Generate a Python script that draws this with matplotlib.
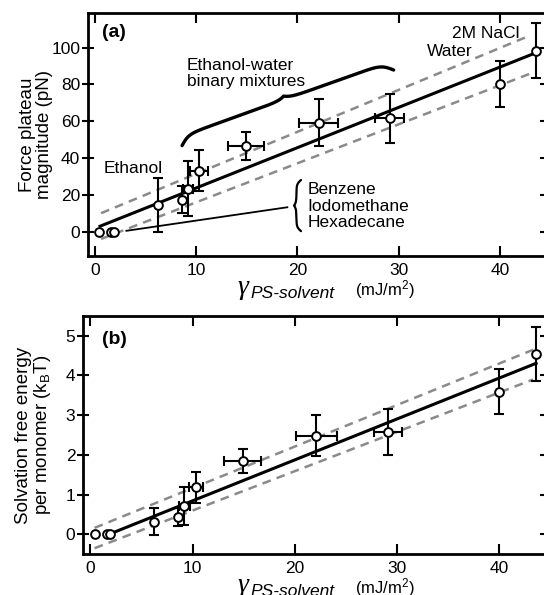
import numpy as np
import matplotlib.pyplot as plt

plt.rcParams['font.family'] = ['Liberation Sans', 'DejaVu Sans']
plt.rcParams['mathtext.fontset'] = 'custom'
plt.rcParams['mathtext.rm'] = 'Liberation Sans'
plt.rcParams['mathtext.it'] = 'Liberation Sans:italic'

# interfacial tension PS-solvent (mJ/m^2)
gamma = np.array([0.4, 1.6, 1.9, 6.2, 8.6, 9.2, 10.3, 14.9, 22.1, 29.1, 40.0, 43.6])
gamma_err_a = np.array([0, 0, 0, 0, 0, 0.5, 0.9, 1.8, 1.9, 1.45, 0, 0])
gamma_err_b = np.array([0, 0, 0, 0, 0, 0.5, 0.7, 1.8, 2.0, 1.4, 0, 0])

# (a) force plateau magnitude (pN)
force = np.array([0, 0, 0, 14.2, 17.3, 23.3, 33.0, 46.5, 59.1, 61.5, 80.4, 98.4])
force_err = np.array([0, 0, 0, 14.7, 7.3, 15.0, 11.2, 7.6, 12.8, 13.5, 12.5, 14.8])

# (b) solvation free energy per monomer (kBT)
energy = np.array([0, 0, 0, 0.32, 0.44, 0.71, 1.18, 1.85, 2.48, 2.58, 3.59, 4.53])
energy_err = np.array([0, 0, 0, 0.34, 0.22, 0.47, 0.38, 0.30, 0.52, 0.58, 0.57, 0.68])

# linear fits and bounds: (intercept, slope, x start, x end)
fit_a = (1.8, 2.19, 0.5, 43.6)
band_a_hi = (8.6, 2.28, 0.6, 43.0)
band_a_lo = (-5.3, 2.12, 0.6, 43.3)
fit_b = (-0.186, 0.103, 1.8, 43.6)
band_b_hi = (0.12, 0.1045, 0.4, 43.3)
band_b_lo = (-0.39, 0.099, 0.4, 43.3)

xticks = [0, 10, 20, 30, 40]
yticks_a = [0, 20, 40, 60, 80, 100]
yticks_b = [0, 1, 2, 3, 4, 5]

FS = 12.5


def fit_line(ax, fit, **kw):
    b0, b1, x0, x1 = fit
    xs = np.array([x0, x1])
    ax.plot(xs, b0 + b1 * xs, **kw)


def brace(ax, p0, p1, amp, r_end, cusp, w_cusp, **kw):
    # curly brace between two data points, built in pixel space;
    # the bulge is on the left of the p0 -> p1 direction
    a = ax.transData.transform(p0)
    b = ax.transData.transform(p1)
    d = b - a
    L = np.hypot(*d)
    u = d / L
    n = np.array([-u[1], u[0]])
    t = np.linspace(0, L, 600)
    s = amp * np.tanh(t / r_end) * np.tanh((L - t) / r_end)
    s += cusp * np.exp(-np.abs(t - L / 2) / w_cusp)
    pts = a + np.outer(t, u) + np.outer(s, n)
    xy = ax.transData.inverted().transform(pts)
    ax.plot(xy[:, 0], xy[:, 1], solid_capstyle='round', solid_joinstyle='round', **kw)


def panel(ax, y, yerr, xerr, fit, hi, lo, yticks):
    fit_line(ax, hi, color='#8a8a8a', lw=1.8, dashes=(3.5, 2.5), zorder=2)
    fit_line(ax, lo, color='#8a8a8a', lw=1.8, dashes=(3.5, 2.5), zorder=2)
    fit_line(ax, fit, color='black', lw=2.2, zorder=3)
    m = yerr > 0
    ax.errorbar(gamma[m], y[m], yerr=yerr[m], fmt='none', ecolor='black',
                elinewidth=1.5, capsize=3.6, capthick=1.5, zorder=4)
    m = xerr > 0
    ax.errorbar(gamma[m], y[m], xerr=xerr[m], fmt='none', ecolor='black',
                elinewidth=1.5, capsize=3.6, capthick=1.5, zorder=4)
    ax.plot(gamma, y, 'o', ms=6.3, mfc='white', mec='black', mew=1.4, zorder=5)
    ax.set_xticks(xticks)
    ax.set_yticks(yticks)
    ax.tick_params(axis='x', direction='in', length=7, width=1.5, top=True,
                   labelsize=FS, pad=5)
    ax.tick_params(axis='y', direction='inout', length=9, width=1.5, right=True,
                   labelsize=FS, pad=0.8)
    for sp in ax.spines.values():
        sp.set_linewidth(2)


fig = plt.figure(figsize=(5.44, 5.95), dpi=100)
ax1 = fig.add_axes([87.5 / 544, 1 - 256 / 595, 458.5 / 544, 243 / 595])
ax2 = fig.add_axes([82.7 / 544, 1 - 554 / 595, 463.3 / 544, 238 / 595])
ax1.set_xlim(-0.74, 44.55)
ax1.set_ylim(-13.3, 118.8)
ax2.set_xlim(-0.76, 44.57)
ax2.set_ylim(-0.496, 5.496)

panel(ax1, force, force_err, gamma_err_a, fit_a, band_a_hi, band_a_lo, yticks_a)
panel(ax2, energy, energy_err, gamma_err_b, fit_b, band_b_hi, band_b_lo, yticks_b)

ax1.set_ylabel('Force plateau\nmagnitude (pN)', fontsize=13.5, linespacing=1.0)
ax1.yaxis.set_label_coords(-0.075, 0.5)
ax2.set_ylabel('Solvation free energy\nper monomer (k$_\\mathregular{B}$T)',
               fontsize=13.5, linespacing=1.0)
ax2.yaxis.set_label_coords(-0.064, 0.5)

ax1.text(0.66, 108, '(a)', fontsize=14, fontweight='bold', va='center')
ax2.text(1.1, 4.9, '(b)', fontsize=14, fontweight='bold', va='center')

# annotations in panel (a)
ax1.text(0.9, 34.4, 'Ethanol', fontsize=FS, va='center')
ax1.text(9.1, 85.8, 'Ethanol-water\nbinary mixtures', fontsize=FS, va='center',
         linespacing=1.05)
ax1.text(35.3, 107.8, '2M NaCl', fontsize=FS, va='center')
ax1.text(32.8, 97.8, 'Water', fontsize=FS, va='center')
ax1.text(21.0, 13.8, 'Benzene\nIodomethane\nHexadecane', fontsize=FS,
         va='center', linespacing=1.15)
brace(ax1, (8.6, 46.7), (29.5, 87.8), 9, 10, 3.5, 6, color='black', lw=2.4)
brace(ax1, (20.35, 0.2), (20.35, 28.0), 4.5, 4, 2.5, 3, color='black', lw=1.6)
ax1.plot([3.1, 19.0], [0.4, 13.2], color='black', lw=1.3)

# x labels: gamma with italic subscript and units
for yb, ys, yu in [(294, 298, 295), (592, 596, 593)]:
    fig.text(238 / 544, 1 - yb / 595, '\u03b3', fontfamily='Liberation Serif',
             style='italic', fontsize=20, va='baseline')
    fig.text(250 / 544, 1 - ys / 595, 'PS-solvent', style='italic',
             fontsize=FS, va='baseline')
    fig.text(355 / 544, 1 - yu / 595, '(mJ/m$^2$)', fontsize=FS - 0.5,
             va='baseline')

fig.savefig('out.png', dpi=100)
